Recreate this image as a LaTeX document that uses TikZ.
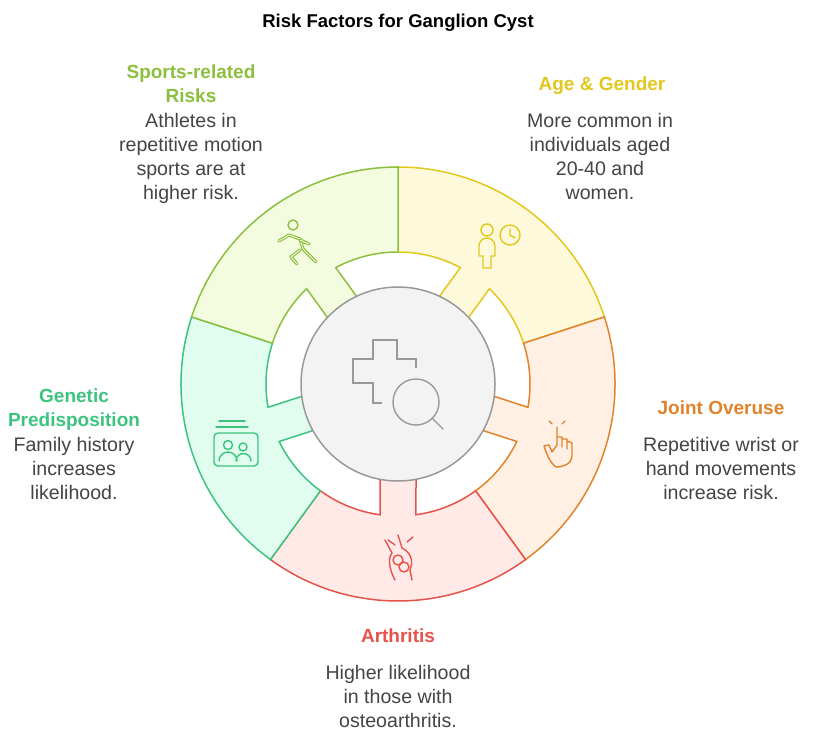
\documentclass[tikz,border=0pt]{standalone}
\usepackage{fontspec}
\setmainfont{Liberation Sans}
\usetikzlibrary{calc}
\definecolor{sgL}{HTML}{8DBF3F}\definecolor{sgF}{HTML}{F3FCDF}
\definecolor{ayL}{HTML}{E2C81E}\definecolor{ayF}{HTML}{FFF9DB}
\definecolor{joL}{HTML}{E0832C}\definecolor{joF}{HTML}{FFF0E3}
\definecolor{arL}{HTML}{E5534B}\definecolor{arF}{HTML}{FFEAE8}
\definecolor{geL}{HTML}{3CC47F}\definecolor{geF}{HTML}{E1FDF0}
\definecolor{ceF}{HTML}{F3F3F3}\definecolor{ceL}{HTML}{999999}
\definecolor{txt}{HTML}{444444}
\tikzset{
 seg/.style={line width=1.5pt,line join=miter},
 icon/.style={line width=1.4pt,line cap=round,line join=round},
 body/.style={font=\fontsize{19.6}{24}\selectfont,text=txt,align=center,anchor=north,inner sep=0pt},
 head/.style={font=\fontsize{19}{24}\selectfont\bfseries,align=center,anchor=north,inner sep=0pt},
}
\newcommand{\segment}[3]{%
 \begin{scope}[rotate=#1]
 \draw[seg,draw=#2,fill=#3] (36:217) arc[start angle=36,end angle=-36,radius=217] -- (-36:132)
   arc[start angle=-36,end angle=-7.83,radius=132] -- (90,-18) -- (90,18) -- (7.83:132)
   arc[start angle=7.83,end angle=36,radius=132] -- cycle;
 \end{scope}}
\begin{document}
\begin{tikzpicture}[x=1pt,y=1pt]
\useasboundingbox (0,0) rectangle (813,739);
\node[head,font=\fontsize{18.5}{24}\selectfont\bfseries] (title) at (398,739-14) {Risk Factors for Ganglion Cyst};
\begin{scope}[shift={(398,355)}]
 \segment{54}{ayL}{ayF}
 \segment{-18}{joL}{joF}
 \segment{-90}{arL}{arF}
 \segment{198}{geL}{geF}
 \segment{126}{sgL}{sgF}
 \node[circle,draw=ceL,fill=ceF,line width=1.5pt,minimum size=194pt,inner sep=0pt] (c) at (0,0) {};
\end{scope}
% icons (image coordinates, y down)
\begin{scope}[y=-1pt,shift={(0,-739)}]
 \draw[icon,ceL,line cap=butt,line join=miter] (382,403) -- (373,403) -- (373,383) -- (353,383) -- (353,359) -- (373,359) -- (373,340) -- (397,340) -- (397,359) -- (416,359) -- (416,368);
 \draw[icon,ceL] (416,402) circle (23);
 \draw[icon,ceL] (432,418) -- (443,429);
 % age icon: person + clock
 \draw[icon,ayL] (487,230) circle (6);
 \draw[icon,ayL] (479,256) -- (479,246) arc[start angle=180,end angle=360,radius=8] -- (495,256) -- (491,256) -- (491,268) -- (483,268) -- (483,256) -- cycle;
 \draw[icon,ayL] (510,235) circle (10);
 \draw[icon,ayL] (510,229) -- (510,235) -- (515,238);
 % sports runner
 \draw[icon,sgL] (293,225) circle (5);
 \draw[icon,sgL,line width=3.2pt] (279,241) -- (289,235) -- (300,239) -- (303,249) -- (316,262);
 \draw[icon,sgF,line width=0.9pt] (279,241) -- (289,235) -- (300,239) -- (303,249) -- (316,262);
 \draw[icon,sgL,line width=3.2pt] (300,240) -- (309,244);
 \draw[icon,sgF,line width=0.9pt] (300,240) -- (309,244);
 \draw[icon,sgL,line width=3.2pt] (300,250) -- (291,257) -- (297,264);
 \draw[icon,sgF,line width=0.9pt] (300,250) -- (291,257) -- (297,264);
 % hand
 \draw[icon,joL] (557,427) -- (557,445) (557,437) -- (562,437) -- (562,447) (562,439) -- (567,439) -- (567,449) (567,441)--(572,443) -- (572,455) .. controls (572,465) and (562,467) .. (556,467) .. controls (549,462) and (546,452) .. (544,446) -- (549,445) -- (552,452) (557,445)--(552,452);
 \draw[icon,joL] (552,424) -- (549,421) (562,424)--(565,421);
 % knee
 \draw[icon,arL] (385,540) -- (392,553) .. controls (386,560) and (392,575) .. (395,580);
 \draw[icon,arL] (398,535) -- (402,548) .. controls (410,552) and (414,560) .. (410,570) -- (412,580);
 \draw[icon,arL] (404,567) circle (5);
 \draw[icon,arL] (398,560) circle (5);
 \draw[icon,arL] (395,545) -- (388,540) (407,542)--(413,537);
 % genetic people card
 \draw[icon,geL] (219,421) -- (245,421) (216,427) -- (248,427);
 \draw[icon,geL,rounded corners=4pt] (214,433) rectangle (258,466);
 \draw[icon,geL] (228,445) circle (4.5) (243,447) circle (4);
 \draw[icon,geL] (219,461) arc[start angle=180,end angle=360,radius=9] (236,461) arc[start angle=180,end angle=360,radius=7.5];
\end{scope}
% texts
\node[head,text=sgL] (sh) at (191,739-65) {Sports-related\\Risks};
\node[body] (sb) at (191,739-113) {Athletes in\\repetitive motion\\sports are at\\higher risk.};
\node[head,text=ayL] (ah) at (602,739-77) {Age \& Gender};
\node[body] (ab) at (600,739-113) {More common in\\individuals aged\\20-40 and\\women.};
\node[head,text=joL] (jh) at (721,739-401) {Joint Overuse};
\node[body] (jb) at (721,739-437) {Repetitive wrist or\\hand movements\\increase risk.};
\node[head,text=arL] (rh) at (398,739-629) {Arthritis};
\node[body] (rb) at (398,739-665) {Higher likelihood\\in those with\\osteoarthritis.};
\node[head,text=geL] (gh) at (74,739-389) {Genetic\\Predisposition};
\node[body] (gb) at (74,739-437) {Family history\\increases\\likelihood.};
\end{tikzpicture}
\end{document}
